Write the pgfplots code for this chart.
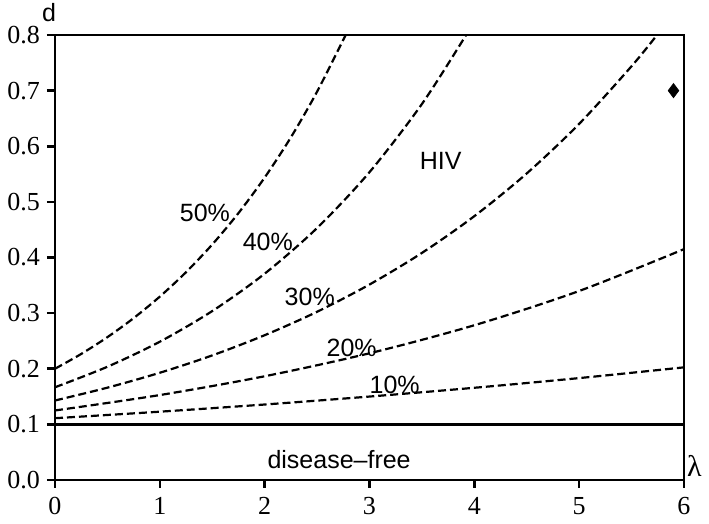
\documentclass[border=0pt]{standalone}
\usepackage{pgfplots}
\pgfplotsset{compat=1.18}
\usepackage{fontspec}
\newfontfamily\lab{Liberation Sans}
\newfontfamily\grk{Liberation Serif}
\begin{document}
\begin{tikzpicture}
\begin{axis}[
  scale only axis,
  width=314.5pt, height=222.5pt,
  xmin=0, xmax=6, ymin=0, ymax=0.8,
  xtick={0,1,2,3,4,5,6},
  ytick={0,0.1,0.2,0.3,0.4,0.5,0.6,0.7,0.8},
  /pgf/number format/assume math mode=true,
  yticklabel style={/pgf/number format/.cd,fixed,fixed zerofill,precision=1},
  tick align=outside,
  xtick pos=bottom, ytick pos=left,
  major tick length=4pt,
  axis line style={line width=1.3pt},
  every tick/.style={line width=1.3pt, black},
  tick label style={font=\grk\fontsize{13}{15}\selectfont},
  xticklabel style={yshift=-1pt},
  clip=false,
]
\addplot[line width=1.1pt, dash pattern=on 4pt off 2pt, smooth] coordinates {
(0,0.2) (0.25,0.2266) (0.5,0.2568) (0.75,0.2910) (1,0.3297) (1.25,0.3736) (1.5,0.4234) (1.75,0.4798) (2,0.5437) (2.25,0.6160) (2.5,0.6981) (2.7726,0.8)};
\addplot[line width=1.1pt, dash pattern=on 4pt off 2pt, smooth] coordinates {
(0,0.1667) (0.5,0.2036) (1,0.2486) (1.5,0.3037) (2,0.3709) (2.5,0.4530) (3,0.5534) (3.5,0.6759) (3.9216,0.8)};
\addplot[line width=1.1pt, dash pattern=on 4pt off 2pt, smooth] coordinates {
(0,0.1429) (0.5,0.1660) (1,0.1928) (1.5,0.2240) (2,0.2603) (2.5,0.3024) (3,0.3514) (3.5,0.4082) (4,0.4743) (4.5,0.5511) (5,0.6402) (5.5,0.7439) (5.7426,0.8)};
\addplot[line width=1.1pt, dash pattern=on 4pt off 2pt, smooth] coordinates {
(0,0.125) (1,0.1527) (2,0.1865) (3,0.2278) (4,0.2782) (5,0.3398) (6,0.4150)};
\addplot[line width=1.1pt, dash pattern=on 4pt off 2pt, smooth] coordinates {
(0,0.1111) (1,0.1228) (2,0.1357) (3,0.1500) (4,0.1658) (5,0.1832) (6,0.2025)};
\addplot[line width=1.3pt] coordinates {(0,0.1) (6,0.1)};
\addplot[only marks, mark=diamond*, mark size=3.5pt, black] coordinates {(5.9,0.7)};
\begin{scope}[every node/.style={font=\lab\fontsize{12.5}{14}\selectfont, inner sep=0pt}]
\node at (axis cs:1.43,0.48) {50\%};
\node at (axis cs:2.03,0.428) {40\%};
\node at (axis cs:2.43,0.329) {30\%};
\node at (axis cs:2.83,0.237) {20\%};
\node at (axis cs:3.24,0.171) {10\%};
\node at (axis cs:3.68,0.574) {HIV};
\node at (axis cs:2.71,0.036) {disease–free};
\node[xshift=-3pt, yshift=11pt] at (rel axis cs:0,1) {d};
\end{scope}
\node[font=\grk\fontsize{15}{17}\selectfont, inner sep=0pt] at (axis cs:6.1,0.025) {λ};
\end{axis}
\pgfresetboundingbox
\path[use as bounding box] (0,0) ++(-27.5pt,-22pt) rectangle (314.5pt+12.5pt,222.5pt+17.5pt);
\end{tikzpicture}
\end{document}
